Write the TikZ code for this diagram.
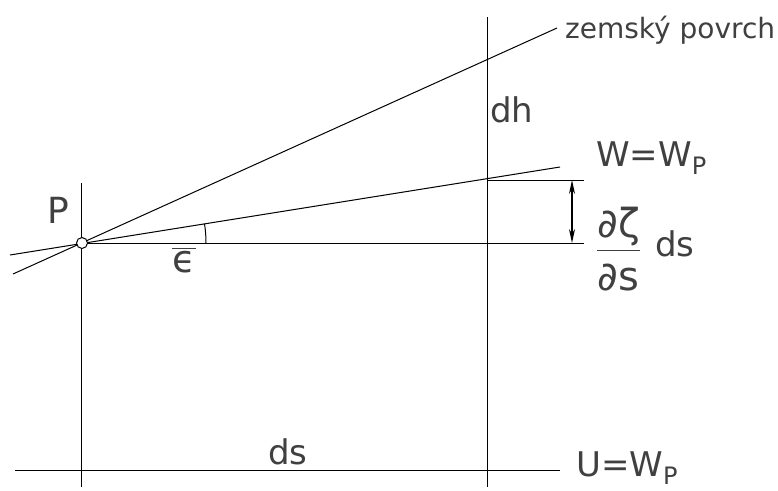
\documentclass[tikz,border=0pt]{standalone}
\usepackage{amsmath}
\usepackage{fontspec}
\setmainfont{DejaVu Sans}
\usetikzlibrary{arrows.meta}
\newcommand{\fsz}[1]{\fontsize{#1}{#1}\selectfont}
\tikzset{
  ln/.style={line width=1pt, draw=black},
  lbl/.style={inner sep=0pt, text=black!75, font=\fsz{#1}},
  lbl/.default=32,
  dim/.style={line width=1.8pt, {Stealth[length=14pt,width=6pt]}-{Stealth[length=14pt,width=6pt]}}
}
\begin{document}
\begin{tikzpicture}[x=1pt,y=-1pt]
\useasboundingbox (0,0) rectangle (778,490);
\fill[white] (0,0) rectangle (778,490);
% points
\coordinate (P) at (82,243);
\coordinate (Lt) at (81,183); \coordinate (Lb) at (81,487);
\coordinate (Rt) at (487,17);  \coordinate (Rb) at (487,487);
\coordinate (WL) at (10,255);  \coordinate (WR) at (560,167);
\coordinate (ZL) at (13,274);  \coordinate (ZR) at (557,28);
\coordinate (HR) at (584,243);
\coordinate (Wi) at (487,180); \coordinate (Wt) at (584,180);
\coordinate (UL) at (15,470);  \coordinate (UR) at (560,470);
\coordinate (At) at (572,180); \coordinate (Ab) at (572,243);
% lines
\draw[ln] (Lt) -- (Lb);
\draw[ln] (Rt) -- (Rb);
\draw[ln] (WL) -- (WR);
\draw[ln] (ZL) -- (ZR);
\draw[ln] (P) -- (HR);
\draw[ln] (Wi) -- (Wt);
\draw[ln] (UL) -- (UR);
\draw[dim] (At) -- (Ab);
% angle arc
\draw[ln] ([shift={(124,0)}]P) arc[start angle=0, end angle=8.9, radius=124pt];
% point P
\node[circle, draw=black, line width=1pt, fill=white, inner sep=0pt, minimum size=11pt] (Pc) at (P) {};
% labels
\node[lbl=36] (lP) at (58,210) {P};
\node[lbl=38] (leps) at (184,260) {$\overline{\hbox{\fsz{38}ϵ}}$};
\node[lbl=28, anchor=west] (lz) at (565,30) {zemský povrch};
\node[lbl=34, anchor=west] (ldh) at (490,110) {dh};
\node[lbl=34, anchor=west] (lW) at (596,158) {W=W\raisebox{-8pt}{\fsz{24}P}};
\node[lbl=34, anchor=west] (lfr) at (596,249) {$\genfrac{}{}{1.2pt}{0}{\hbox{\fsz{40}∂ζ\rule[-5pt]{0pt}{5pt}}}{\hbox{\fsz{40}\rule{0pt}{36pt}∂s}}$\hspace{14pt}ds};
\node[lbl=34] (lds) at (288,452) {ds};
\node[lbl=34, anchor=west] (lU) at (576,468) {U=W\raisebox{-8pt}{\fsz{24}P}};
\end{tikzpicture}
\end{document}
